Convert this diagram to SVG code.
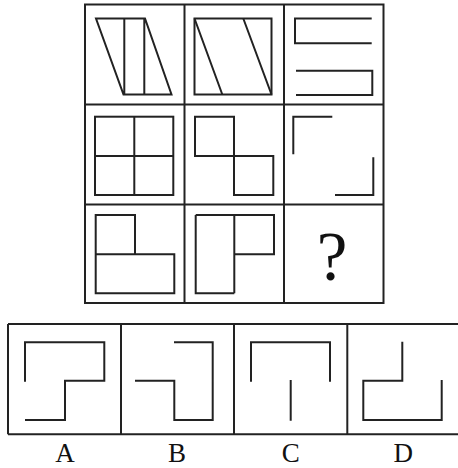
<svg xmlns="http://www.w3.org/2000/svg" width="458" height="468" viewBox="0 0 458 468">
<style>
.b{fill:none;stroke:#222;stroke-width:2}
.f{fill:none;stroke:#222;stroke-width:2;stroke-linejoin:miter}
.t{font-family:"Liberation Serif","Times New Roman",serif;fill:#111;text-anchor:middle}
</style>
<rect width="458" height="468" fill="#fff"/>
<g id="grid">
<rect class="b" x="85" y="4.5" width="298.5" height="298.5"/>
<line class="b" x1="184.5" y1="4.5" x2="184.5" y2="303"/>
<line class="b" x1="284" y1="4.5" x2="284" y2="303"/>
<line class="b" x1="85" y1="104.5" x2="383.5" y2="104.5"/>
<line class="b" x1="85" y1="204.5" x2="383.5" y2="204.5"/>
</g>
<g id="cell1">
<path class="f" d="M96,18.5 H145 L171.5,94.5 H123.5 Z M124.3,18.5 V94.5 M144.3,18.5 V94.5"/>
</g>
<g id="cell2">
<rect class="f" x="194.5" y="18.5" width="77" height="76"/>
<path class="f" d="M194.5,18.5 L222.3,94.5 M243.3,18.5 L271.5,94.5"/>
</g>
<g id="cell3">
<path class="f" d="M371.7,18.5 H295 V43.3 H371.7 M296,70.7 H372.3 V95 H296"/>
</g>
<g id="cell4">
<rect class="f" x="95" y="116.7" width="78.3" height="78.3"/>
<path class="f" d="M134.3,116.7 V195 M95,156 H173.3"/>
</g>
<g id="cell5">
<path class="f" d="M195,116.7 H234 V195 H273.3 V156 H195 Z"/>
</g>
<g id="cell6">
<path class="f" d="M293.3,154.3 V116.7 H332.3 M373.3,157.3 V195 H335"/>
</g>
<g id="cell7">
<path class="f" d="M95.7,215 H135 V254.3 H174.3 V293.3 H95.7 Z M95.7,254.3 H135"/>
</g>
<g id="cell8">
<path class="f" d="M195.7,215 H274 V254.3 H234.3 M234.3,215 V293.3 M195.7,215 V293.3 H234.3"/>
</g>
<g id="cell9">
<text class="t" x="332" y="280" font-size="69">?</text>
</g>
<g id="options">
<line class="b" x1="8" y1="324" x2="458" y2="324"/>
<line class="b" x1="8" y1="434.3" x2="458" y2="434.3"/>
<line class="b" x1="8" y1="324" x2="8" y2="434.3"/>
<line class="b" x1="121" y1="324" x2="121" y2="434.3"/>
<line class="b" x1="234" y1="324" x2="234" y2="434.3"/>
<line class="b" x1="347.3" y1="324" x2="347.3" y2="434.3"/>
</g>
<g id="optA">
<path class="f" d="M25,381.7 V342.3 H104.3 V380.7 H65 V420 H25"/>
<text class="t" x="65" y="461.5" font-size="27">A</text>
</g>
<g id="optB">
<path class="f" d="M174,342.3 H212.7 V420 H174.3 V380.7 H135"/>
<text class="t" x="177" y="461.5" font-size="27">B</text>
</g>
<g id="optC">
<path class="f" d="M251,381.7 V342.3 H330 V381.7 M290.7,380 V420.7"/>
<text class="t" x="290.7" y="461.5" font-size="27">C</text>
</g>
<g id="optD">
<path class="f" d="M402.3,341.7 V380.7 H363.3 V420 H441.7 V380"/>
<text class="t" x="403.3" y="461.5" font-size="27">D</text>
</g>
</svg>
